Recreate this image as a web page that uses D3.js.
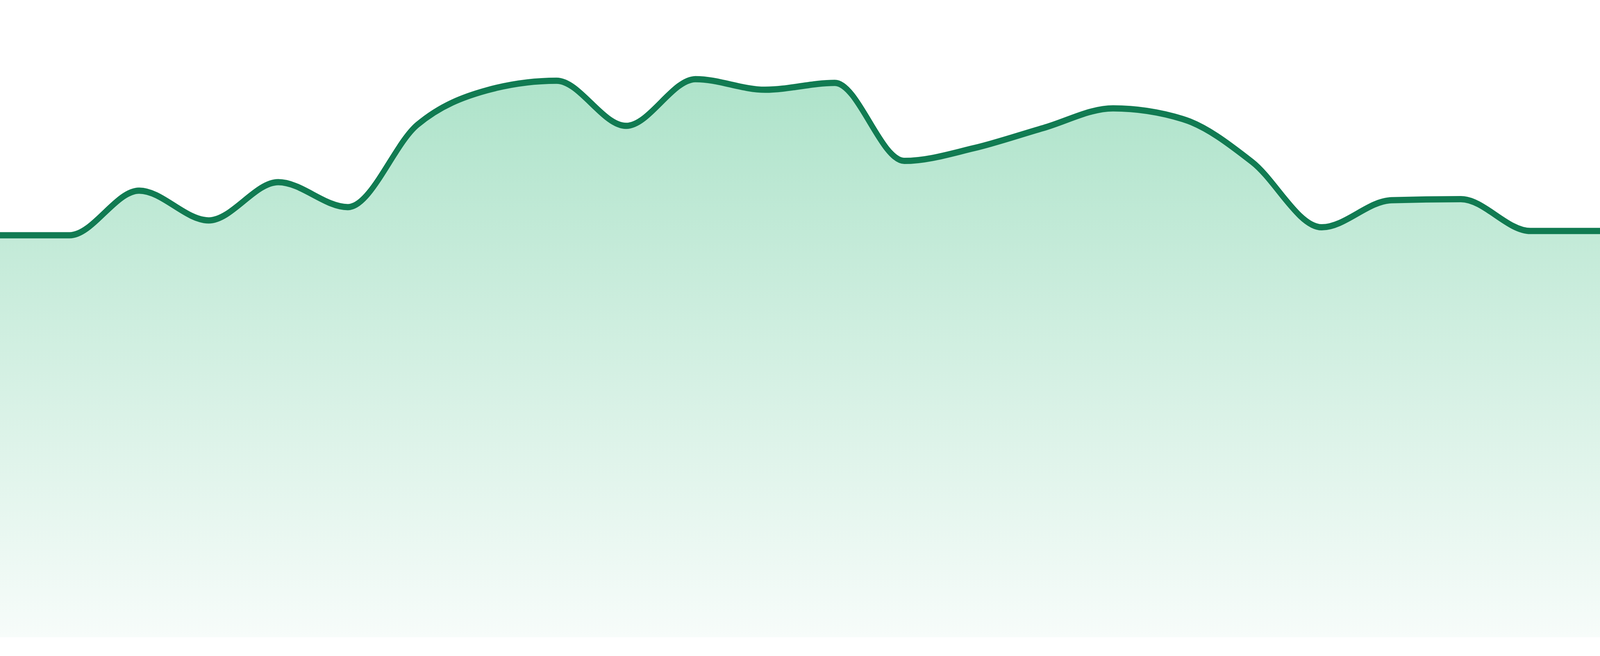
<!DOCTYPE html>
<html>
<head>
<meta charset="utf-8">
<script src="https://cdn.jsdelivr.net/npm/d3@7"></script>
<style>
  html, body { margin: 0; padding: 0; background: #ffffff; overflow: hidden; }
  svg { display: block; width: 100vw; height: 100vh; }
</style>
</head>
<body>
<div id="chart"></div>
<script>
// one point per step
var steps = d3.range(24);
var values = [
  75.7, 75.7, 84.1, 78.5, 85.7, 81.0, 96.5, 103.0,
  104.8, 96.3, 105.1, 103.1, 104.4, 89.7, 92.1, 95.9,
  99.6, 97.6, 89.5, 77.2, 82.3, 82.5, 76.5, 76.5
];
var yDomain = [0, 120];

// drawn in a 4800x1680 box, scaled to whatever the window is
var width = 4800, height = 1680;
var margin = { top: 0, right: 0, bottom: 48, left: 0 };

var svg = d3.select('#chart').append('svg')
  .attr('viewBox', '0 0 ' + width + ' ' + height)
  .attr('preserveAspectRatio', 'none');

var x = d3.scalePoint()
  .domain(steps)
  .range([margin.left, width - margin.right]);

var y = d3.scaleLinear()
  .domain(yDomain)
  .range([height - margin.bottom, margin.top]);

var grad = svg.append('defs').append('linearGradient')
  .attr('id', 'area-fill')
  .attr('x1', 0).attr('y1', 0)
  .attr('x2', 0).attr('y2', 1);
grad.append('stop').attr('offset', '0%').attr('stop-color', '#aee3ca');
grad.append('stop').attr('offset', '100%').attr('stop-color', '#f7fcfa');

var area = d3.area()
  .x(function (d, i) { return x(steps[i]); })
  .y0(y(0))
  .y1(function (d) { return y(d); })
  .curve(d3.curveMonotoneX);

var line = d3.line()
  .x(function (d, i) { return x(steps[i]); })
  .y(function (d) { return y(d); })
  .curve(d3.curveMonotoneX);

svg.append('path')
  .datum(values)
  .attr('fill', 'url(#area-fill)')
  .attr('d', area);

svg.append('path')
  .datum(values)
  .attr('fill', 'none')
  .attr('stroke', '#117b52')
  .attr('stroke-width', 16)
  .attr('d', line);
</script>
</body>
</html>
